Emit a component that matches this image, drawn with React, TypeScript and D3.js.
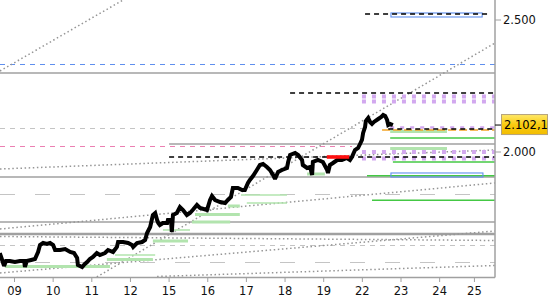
import React from "react";
import * as d3 from "d3";

// ---------- data ----------
const dayLabels = ["09", "10", "11", "12", "15", "16", "17", "18", "19", "22", "23", "24", "25"];
const dayTicks = [0, 1, 2, 3, 4, 5, 6, 7, 8, 9, 10, 11, 11.9];

const priceT = [
  -0.38, -0.32, -0.27, -0.22, -0.12, 0.01, 0.14, 0.25, 0.27, 0.32, 0.43, 0.53, 0.61, 0.66, 0.74, 0.84, 0.92, 1.0, 1.05, 1.18,
  1.31, 1.44, 1.54, 1.62, 1.64, 1.75, 1.82, 1.88, 1.95, 2.03, 2.13, 2.21, 2.34, 2.42, 2.55, 2.65, 2.68, 2.81, 2.94, 3.04,
  3.07, 3.17, 3.3, 3.38, 3.43, 3.51, 3.58, 3.64, 3.69, 3.72, 3.76, 3.84, 3.95, 3.97, 4.05, 4.07, 4.1, 4.2, 4.28, 4.36,
  4.46, 4.54, 4.61, 4.72, 4.8, 4.98, 5.06, 5.11, 5.19, 5.32, 5.45, 5.52, 5.6, 5.65, 5.78, 5.89, 5.96, 6.04, 6.09, 6.17,
  6.27, 6.35, 6.43, 6.53, 6.61, 6.69, 6.74, 6.82, 6.92, 7.05, 7.08, 7.13, 7.26, 7.34, 7.44, 7.46, 7.57, 7.65, 7.7, 7.72,
  7.85, 7.98, 8.09, 8.11, 8.16, 8.24, 8.35, 8.47, 8.6, 8.68, 8.73, 8.81, 8.89, 8.94, 8.99, 9.02, 9.07, 9.09, 9.15, 9.2,
  9.25, 9.3, 9.41, 9.49, 9.54, 9.59, 9.64, 9.67, 9.72, 9.79,
];
const priceV = [
  1617.4, 1590.9, 1568.2, 1587.1, 1587.1, 1583.3, 1587.1, 1587.1, 1564.4, 1587.1, 1590.9, 1594.7, 1621.2, 1647.7, 1655.3, 1651.5, 1655.3, 1647.7, 1628.8, 1628.8,
  1632.6, 1621.2, 1617.4, 1598.5, 1572.0, 1564.4, 1575.8, 1583.3, 1594.7, 1602.3, 1617.4, 1609.9, 1617.4, 1628.8, 1621.2, 1640.2, 1659.1, 1659.1, 1655.3, 1647.7,
  1640.2, 1655.3, 1659.1, 1666.7, 1693.2, 1715.9, 1761.4, 1769.0, 1742.4, 1731.1, 1723.5, 1731.1, 1731.1, 1742.4, 1742.4, 1697.0, 1761.4, 1769.0, 1791.7, 1780.3,
  1761.4, 1769.0, 1780.3, 1799.3, 1787.9, 1780.3, 1818.2, 1833.4, 1818.2, 1810.6, 1806.8, 1818.2, 1829.6, 1863.7, 1863.7, 1856.1, 1856.1, 1882.6, 1894.0, 1909.1,
  1931.8, 1950.8, 1954.6, 1943.2, 1931.8, 1912.9, 1897.7, 1924.3, 1931.8, 1939.4, 1962.1, 1988.7, 1996.2, 1988.7, 1969.7, 1950.8, 1939.4, 1943.2, 1912.9, 1962.1,
  1969.7, 1962.1, 1931.8, 1920.5, 1950.8, 1958.4, 1969.7, 1969.7, 1977.3, 1969.7, 1981.1, 2007.6, 2015.2, 2030.3, 2045.5, 2072.0, 2094.7, 2117.5, 2128.8, 2113.7,
  2106.1, 2113.7, 2125.0, 2132.6, 2140.2, 2136.4, 2121.2, 2102.3, 2106.1, 2102.1,
];
const lastPrice = 2102.1;
const yTickValues = [2000, 2500];

const T0 = -0.375;
const T1 = 12.43;

// horizontal levels: [value, fromDay, toDay]
const grayLevels = [[2299.3, T0, T1], [2030.3, 4.0, T1], [1905.3, T0, T1], [1734.9, T0, T1]];
const grayHeavyLevels = [[1689.4, T0, T1]];
const blueDashedLevels = [[2329.6, T0, T1]];
const blackDashedLevels = [[2522.8, 9.07, 12.3], [2223.5, 7.13, T1], [2087.2, 9.67, T1], [1981.1, 4.0, T1]];
const lightGrayDashedLevels = [[2087.2, T0, 9.2], [1645.8, T0, T1]];
const lightGrayLongDashLevels = [[1840.9, T0, T1], [1579.6, T0, T1]];
const pinkDashedLevels = [[2019.0, T0, 8.73]];
const orangeLevels = [[2083.4, 9.51, T1]];
const greenLevels = [[2053.0, 9.72, T1], [1962.1, 9.79, T1], [1910.2, 9.12, T1], [1817.0, 9.25, T1]];
const lightGreenThick = [
  [1566.3, -0.25, 2.47], [1592.8, 2.39, 3.58], [1662.9, 3.58, 4.49], [1734.9, 4.59, 5.58], [1763.3, 4.67, 5.83],
  [1795.5, 5.52, 5.83], [1916.7, 7.57, 8.03], [2077.7, 9.72, 11.19], [2013.3, 9.72, 11.19],
];
const lightGreenThin = [[1609.9, 2.6, 3.64], [1704.6, 3.84, 4.54], [1837.1, 5.86, 7.05], [1806.8, 6.01, 7.05]];
const lavenderLevels = [[2210.3, 8.99, T1], [2191.3, 8.99, T1], [1999.9, 8.99, T1], [1975.4, 8.99, T1]];
const lavenderSmallLevels = [[2092.8, 9.72, T1]];
const redLevels = [[1981.1, 8.08, 8.66]];
// boxes: [low, high, fromDay, toDay]
const blueBoxes = [[2511.4, 2526.6, 9.74, 12.1], [1905.3, 1920.5, 9.74, 12.12]];
// dotted trend lines: [t0, v0, t1, v1]
const trendLines = [
  [-0.375, 2306.9, 2.81, 2575.8],
  [2.13, 1526.5, 12.43, 2412.9],
  [-0.375, 1935.6, 12.43, 2007.6],
  [-0.375, 1708.3, 12.43, 1882.6],
  [-0.375, 1679.9, 12.43, 1664.8],
  [-0.375, 1541.7, 12.43, 1700.8],
  [3.69, 1528.4, 12.43, 1570.1],
];

// ---------- layout ----------
const W = 550;
const H = 300;
const PR = 495; // plot right
const PB = 277.5; // plot bottom

const x = d3.scaleLinear().domain([0, 11]).range([14.5, 439.65]);
const y = d3.scaleLinear().domain([2000, 2500]).range([152, 20]);

const loc = d3.formatLocale({ decimal: ",", thousands: ".", grouping: [3], currency: ["", ""] });
const fmtAxis = loc.format(",.0f");
const fmtPrice = loc.format(",.1f");

const FONT = "'DejaVu Sans', Verdana, sans-serif";

function Levels({ data, stroke, width = 1, dash, crisp = false }: any) {
  return (
    <g shapeRendering={crisp ? "crispEdges" : undefined}>
      {data.map((d: number[], i: number) => (
        <line
          key={i}
          x1={x(d[1])}
          x2={x(d[2])}
          y1={y(d[0])}
          y2={y(d[0])}
          stroke={stroke}
          strokeWidth={width}
          strokeDasharray={dash}
        />
      ))}
    </g>
  );
}

export default function App() {
  const line = d3
    .line<number>()
    .x((_, i) => x(priceT[i]))
    .y((v) => y(v));
  const pricePath = line(priceV) || "";

  return (
    <svg
      width={W}
      height={H}
      style={{ position: "fixed", left: 0, top: 0, background: "#fff" }}
      fontFamily={FONT}
    >
      <defs>
        <clipPath id="plot">
          <rect x={0} y={0} width={PR} height={PB} />
        </clipPath>
        <linearGradient id="gold" x1="0" y1="0" x2="0" y2="1">
          <stop offset="0" stopColor="#ffe86a" />
          <stop offset="0.5" stopColor="#f9cc10" />
          <stop offset="1" stopColor="#f2bc00" />
        </linearGradient>
      </defs>
      <rect x={0} y={0} width={W} height={H} fill="#fff" />
      <g clipPath="url(#plot)">
        <Levels data={lightGrayLongDashLevels} stroke="#c4c4c4" width={1} dash="15 20" crisp />
        <Levels data={lightGrayDashedLevels} stroke="#c4c4c4" width={1} dash="5 5" crisp />
        <Levels data={grayLevels} stroke="#a0a0a0" width={1.4} />
        <Levels data={grayHeavyLevels} stroke="#a0a0a0" width={2.4} />
        <Levels data={blueDashedLevels} stroke="#5f8fee" width={1} dash="5 5" crisp />
        <Levels data={pinkDashedLevels} stroke="#ec7fb2" width={1} dash="5 5" crisp />
        {trendLines.map((d, i) => (
          <line
            key={i}
            x1={x(d[0])}
            y1={y(d[1])}
            x2={x(d[2])}
            y2={y(d[3])}
            stroke="#959595"
            strokeWidth={1.5}
            strokeDasharray="1.5 2.6"
          />
        ))}
        <Levels data={lightGreenThick} stroke="#b2e4ae" width={3} />
        <Levels data={lightGreenThin} stroke="#b2e4ae" width={1.6} />
        <Levels data={greenLevels} stroke="#44c844" width={1.4} />
        <Levels data={lavenderLevels} stroke="#d2a8ef" width={4} dash="4 6" />
        <Levels data={lavenderSmallLevels} stroke="#d2a8ef" width={2.5} dash="4 6" />
        {blueBoxes.map((d, i) => (
          <rect
            key={i}
            x={x(d[2])}
            y={y(d[1])}
            width={x(d[3]) - x(d[2])}
            height={y(d[0]) - y(d[1])}
            fill="none"
            stroke="#5f8fee"
            strokeWidth={1.1}
          />
        ))}
        <Levels data={orangeLevels} stroke="#f2a426" width={1.4} dash="8 3" />
        <Levels data={blackDashedLevels} stroke="#000" width={1.3} dash="5 4" />
        <path d={pricePath} fill="none" stroke="#000" strokeWidth={4} strokeLinejoin="miter" strokeMiterlimit={2} />
        <Levels data={redLevels} stroke="#ff1010" width={3.6} />
      </g>

      {/* frame */}
      <line x1={PR} x2={PR} y1={0} y2={PB} stroke="#a0a0a0" strokeWidth={1.5} />
      <line x1={0} x2={PR} y1={PB} y2={PB} stroke="#a0a0a0" strokeWidth={1.5} />

      {/* x axis */}
      {dayTicks.map((t, i) => (
        <g key={i}>
          <line x1={x(t)} x2={x(t)} y1={PB} y2={PB + 4.5} stroke="#a0a0a0" strokeWidth={1} />
          <text x={x(t)} y={294.5} textAnchor="middle" fontSize={11.5} fill="#111">
            {dayLabels[i]}
          </text>
        </g>
      ))}

      {/* y axis */}
      {yTickValues.map((v) => (
        <g key={v}>
          <line x1={PR} x2={PR + 6} y1={y(v)} y2={y(v)} stroke="#a0a0a0" strokeWidth={1} />
          <text x={PR + 8} y={y(v)} dy="0.36em" fontSize={11.5} fill="#111">
            {fmtAxis(v)}
          </text>
        </g>
      ))}

      {/* last price marker */}
      <line x1={PR} x2={PR + 7} y1={y(lastPrice)} y2={y(lastPrice)} stroke="#000" strokeWidth={1} />
      <rect
        x={PR + 6.5}
        y={y(lastPrice) - 10.5}
        width={46}
        height={20}
        fill="url(#gold)"
        stroke="#b5a27a"
        strokeWidth={1}
      />
      <text x={PR + 9} y={y(lastPrice)} dy="0.36em" fontSize={11.5} fill="#000">
        {fmtPrice(lastPrice)}
      </text>
    </svg>
  );
}
